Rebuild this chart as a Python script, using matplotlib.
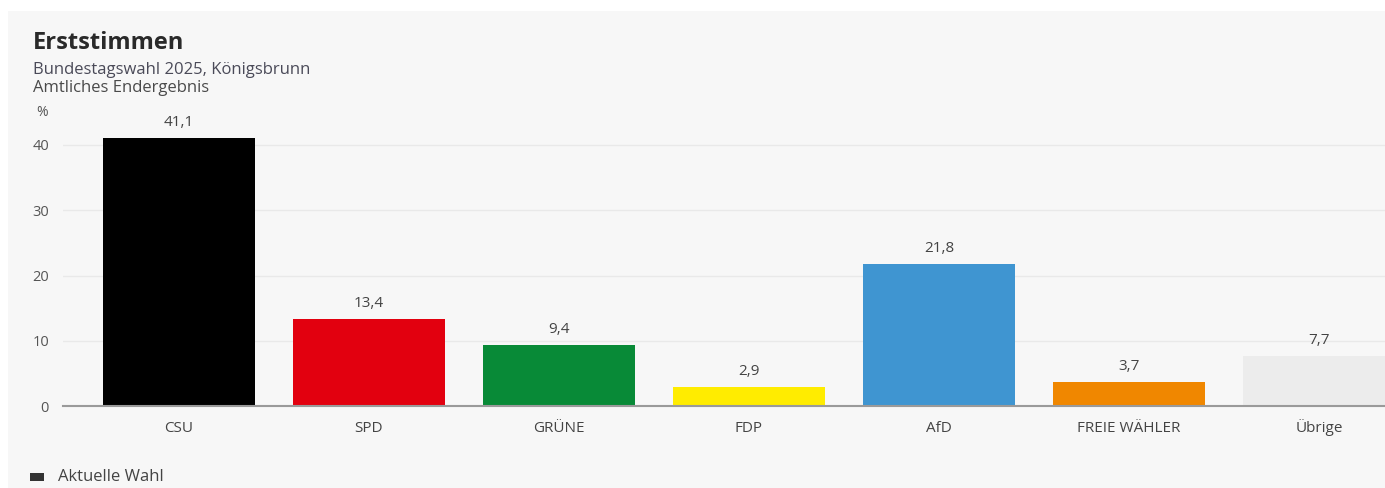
import matplotlib
matplotlib.use("Agg")
import matplotlib.pyplot as plt
from matplotlib.patches import Rectangle

categories = ["CSU", "SPD", "GRÜNE", "FDP", "AfD", "FREIE WÄHLER", "Übrige"]
values = [41.1, 13.4, 9.4, 2.9, 21.8, 3.7, 7.7]
colors = ["#000000", "#e2000f", "#088a37", "#ffec00", "#3f95d1", "#f08700", "#ececec"]
yticks = [0, 10, 20, 30, 40]
legend_label = "Aktuelle Wahl"

plt.rcParams['font.family'] = ['Open Sans', 'DejaVu Sans']

W, H = 1385, 488
fig = plt.figure(figsize=(W / 100, H / 100), dpi=100)
fig.patch.set_facecolor("white")
fig.patches.append(Rectangle((8 / W, 0), 1, 1 - 11 / H, transform=fig.transFigure,
                             facecolor="#f7f7f7", edgecolor="none", zorder=-10))

ax_left = 63 / W
ax_bottom = (H - 406) / H
ymax = 44
px_per_unit = 261 / 40
ax_top_px = 406 - ymax * px_per_unit
ax = fig.add_axes([ax_left, ax_bottom, 1 - ax_left, (406 - ax_top_px) / H])
ax.set_facecolor("none")

x = list(range(len(categories)))
ax.bar(x, values, width=0.8, color=colors, zorder=3)
for xi, v in zip(x, values):
    ax.text(xi, v + 1.2, f"{v:.1f}".replace(".", ","), ha="center", va="bottom",
            fontsize=11, color="#444444")

ax.set_xlim(-0.61, (W - 179) / 190)
ax.set_ylim(0, ymax)
ax.set_yticks(yticks)
ax.set_yticklabels([str(t) for t in yticks], fontsize=10.5, color="#555555")
ax.set_xticks(x)
ax.set_xticklabels(categories, fontsize=11, color="#444444")
for lbl in ax.get_xticklabels():
    lbl.set_verticalalignment("baseline")
ax.tick_params(axis="both", length=0)
ax.tick_params(axis="y", pad=10)
ax.tick_params(axis="x", pad=19)
ax.grid(axis="y", color="#e9e9e9", linewidth=1, zorder=0)
for s in ["top", "right", "left"]:
    ax.spines[s].set_visible(False)
ax.spines["bottom"].set_color("#9a9a9a")
ax.spines["bottom"].set_linewidth(1.5)
ax.spines["bottom"].set_zorder(4)

fig.text(33 / W, 1 - 43 / H, "Erststimmen", fontsize=17, fontweight="bold",
         color="#2a2a2a", va="center", ha="left")
fig.text(33 / W, 1 - 70 / H, "Bundestagswahl 2025, Königsbrunn", fontsize=12,
         color="#4a4a58", va="center", ha="left")
fig.text(33 / W, 1 - 88 / H, "Amtliches Endergebnis", fontsize=12,
         color="#4a4a4a", va="center", ha="left")
fig.text(36 / W, 1 - 113 / H, "%", fontsize=10, color="#555555", va="center", ha="left")

fig.patches.append(Rectangle((30 / W, 1 - 481 / H), 14 / W, 8 / H, transform=fig.transFigure,
                             facecolor="#333333", edgecolor="none"))
fig.text(58 / W, 1 - 477 / H, legend_label, fontsize=12, color="#444444",
         va="center", ha="left")

fig.savefig("out.png", dpi=100, facecolor=fig.get_facecolor())
